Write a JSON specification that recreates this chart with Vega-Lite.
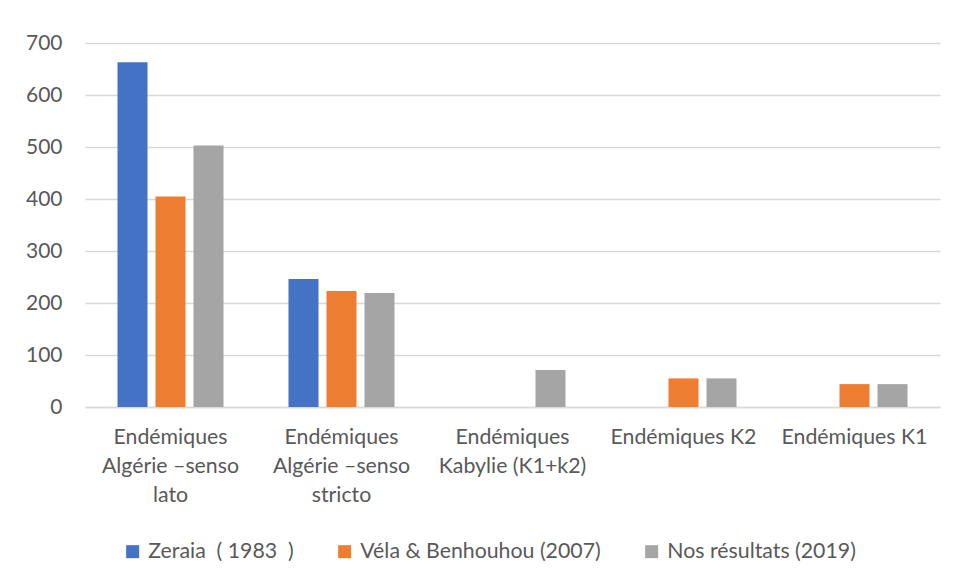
{
  "$schema": "https://vega.github.io/schema/vega-lite/v6.json",
  "width": 855,
  "height": 364,
  "autosize": {"type": "none"},
  "padding": {"left": 85, "top": 43, "right": 18, "bottom": 173},
  "background": "white",
  "data": {
    "values": [
      {"cat": "Endémiques|Algérie –senso|lato", "serie": "Zeraia\u00a0 (\u00a01983\u00a0 )", "val": 663},
      {"cat": "Endémiques|Algérie –senso|lato", "serie": "Véla & Benhouhou (2007)", "val": 405},
      {"cat": "Endémiques|Algérie –senso|lato", "serie": "Nos résultats (2019)", "val": 503},
      {"cat": "Endémiques|Algérie –senso|stricto", "serie": "Zeraia\u00a0 (\u00a01983\u00a0 )", "val": 246},
      {"cat": "Endémiques|Algérie –senso|stricto", "serie": "Véla & Benhouhou (2007)", "val": 223},
      {"cat": "Endémiques|Algérie –senso|stricto", "serie": "Nos résultats (2019)", "val": 219},
      {"cat": "Endémiques|Kabylie (K1+k2)", "serie": "Nos résultats (2019)", "val": 71},
      {"cat": "Endémiques K2", "serie": "Véla & Benhouhou (2007)", "val": 55},
      {"cat": "Endémiques K2", "serie": "Nos résultats (2019)", "val": 55},
      {"cat": "Endémiques K1", "serie": "Véla & Benhouhou (2007)", "val": 44},
      {"cat": "Endémiques K1", "serie": "Nos résultats (2019)", "val": 44}
    ]
  },
  "mark": {"type": "bar"},
  "encoding": {
    "x": {
      "field": "cat",
      "type": "nominal",
      "sort": null,
      "scale": {"paddingInner": 0, "paddingOuter": 0},
      "axis": {
        "title": null,
        "labelAngle": 0,
        "labelExpr": "split(datum.label, '|')",
        "labelFont": "Lato",
        "labelFontSize": 21.3,
        "labelColor": "#595959",
        "labelLineHeight": 29,
        "labelPadding": 19,
        "labelBaseline": "top",
        "ticks": false,
        "domain": true,
        "domainColor": "#D9D9D9",
        "domainWidth": 1.5,
        "labelLimit": 0
      }
    },
    "xOffset": {
      "field": "serie",
      "type": "nominal",
      "sort": ["Zeraia\u00a0 (\u00a01983\u00a0 )", "Véla & Benhouhou (2007)", "Nos résultats (2019)"],
      "scale": {"paddingInner": 0.21, "paddingOuter": 0.855}
    },
    "y": {
      "field": "val",
      "type": "quantitative",
      "scale": {"domain": [0, 700], "nice": false},
      "axis": {
        "title": null,
        "values": [0, 100, 200, 300, 400, 500, 600, 700],
        "labelFont": "Lato",
        "labelFontSize": 21,
        "labelColor": "#595959",
        "labelPadding": 23,
        "ticks": false,
        "domain": false,
        "gridColor": "#D9D9D9",
        "gridWidth": 1.5
      }
    },
    "color": {
      "field": "serie",
      "type": "nominal",
      "sort": ["Zeraia\u00a0 (\u00a01983\u00a0 )", "Véla & Benhouhou (2007)", "Nos résultats (2019)"],
      "scale": {"range": ["#4472C4", "#ED7D31", "#A5A5A5"]},
      "legend": {
        "title": null,
        "orient": "none",
        "direction": "horizontal",
        "legendX": 37,
        "legendY": 498,
        "symbolType": "square",
        "symbolSize": 169,
        "symbolStrokeWidth": 0,
        "symbolOpacity": 1,
        "labelFont": "Lato",
        "labelFontSize": 21.3,
        "labelColor": "#595959",
        "labelOffset": 5,
        "columnPadding": 40,
        "labelLimit": 0
      }
    }
  },
  "config": {
    "view": {"stroke": null}
  }
}
